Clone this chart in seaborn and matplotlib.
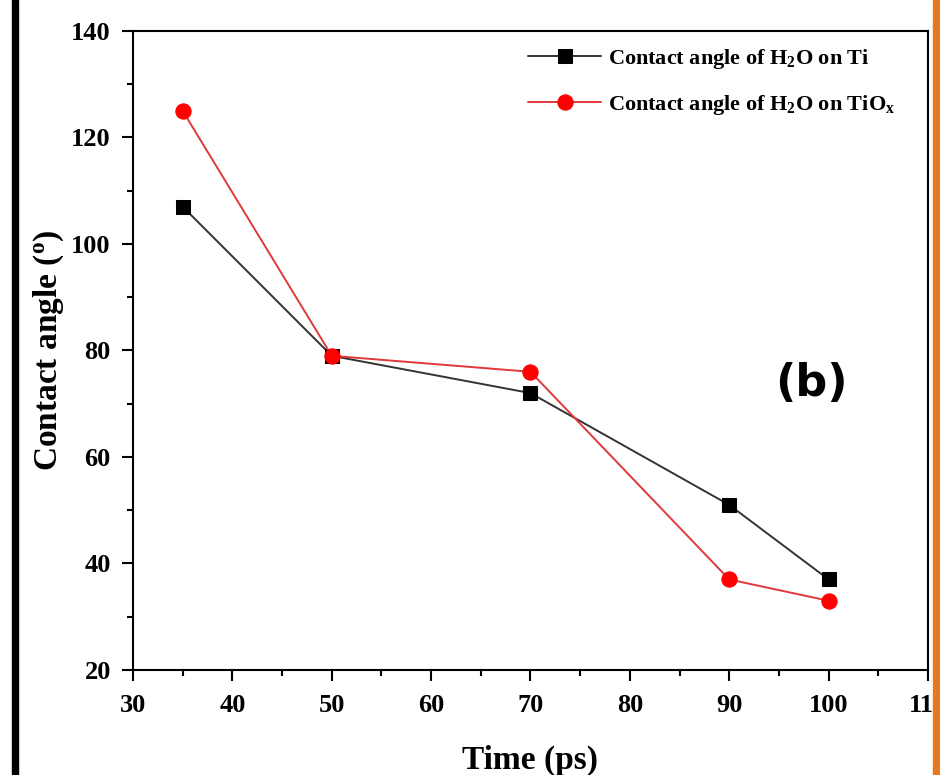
import matplotlib
matplotlib.use("Agg")
import matplotlib.pyplot as plt
import seaborn as sns
import pandas as pd
from matplotlib.patches import Rectangle

# ======================================
# Data
# ======================================

time_ps = [35, 50, 70, 90, 100]
angle_ti = [107, 79, 72, 51, 37]
angle_tiox = [125, 79, 76, 37, 33]

label_ti = r"Contact angle of H$_\mathrm{2}$O on Ti"
label_tiox = r"Contact angle of H$_\mathrm{2}$O on TiO$_\mathrm{x}$"

x_ticks = [30, 40, 50, 60, 70, 80, 90, 100, 110]
y_ticks = [20, 40, 60, 80, 100, 120, 140]

# ======================================
# Style
# ======================================

sns.set_theme(style="ticks")
plt.rcParams["font.family"] = ["Liberation Serif", "DejaVu Serif"]
plt.rcParams["font.weight"] = "bold"
plt.rcParams["text.color"] = "black"
plt.rcParams["axes.labelcolor"] = "black"
plt.rcParams["mathtext.fontset"] = "custom"
plt.rcParams["mathtext.rm"] = "Liberation Serif:bold"
plt.rcParams["mathtext.it"] = "Liberation Serif:bold"
plt.rcParams["mathtext.bf"] = "Liberation Serif:bold"

df_ti = pd.DataFrame({"time": time_ps, "angle": angle_ti})
df_tiox = pd.DataFrame({"time": time_ps, "angle": angle_tiox})

fig = plt.figure(figsize=(9.4, 7.75), dpi=100)
ax = fig.add_axes([0.1415, 0.1355, 0.8457, 0.8245])

sns.lineplot(
    data=df_ti, x="time", y="angle", ax=ax,
    color="#333333", linewidth=1.4,
    marker="s", markersize=10, markerfacecolor="black",
    markeredgecolor="black", label=label_ti
)

sns.lineplot(
    data=df_tiox, x="time", y="angle", ax=ax,
    color="#e0383b", linewidth=1.4,
    marker="o", markersize=11, markerfacecolor="#ff0000",
    markeredgecolor="#ff0000", label=label_tiox
)

ax.set_xlim(30, 110)
ax.set_ylim(20, 140)
ax.set_xticks(x_ticks)
ax.set_yticks(y_ticks)
ax.set_xticks([35, 45, 55, 65, 75, 85, 95, 105], minor=True)
ax.set_yticks([30, 50, 70, 90, 110, 130], minor=True)

ax.tick_params(axis="both", which="major", direction="out",
               length=8, width=1.5, labelsize=19, colors="black")
ax.tick_params(axis="x", which="major", pad=9)
ax.tick_params(axis="y", which="major", pad=8)
ax.tick_params(axis="both", which="minor", direction="out",
               length=4, width=1.5, colors="black")
ax.tick_params(top=False, right=False, which="both")

for spine in ax.spines.values():
    spine.set_visible(True)
    spine.set_linewidth(1.5)
    spine.set_color("black")

for lab in ax.get_xticklabels() + ax.get_yticklabels():
    lab.set_fontweight("bold")

ax.set_xlabel("Time (ps)", fontsize=24, fontweight="bold", labelpad=20)
ax.set_ylabel(r"Contact angle ($^\mathrm{o}$)", fontsize=24,
              fontweight="bold", labelpad=4)

ax.legend(
    loc="upper left", bbox_to_anchor=(0.497, 0.975),
    frameon=False, handlelength=3.3,
    labelspacing=0.97, borderpad=0, borderaxespad=0, handletextpad=0.3,
    prop={"family": "Liberation Serif", "weight": "bold", "size": 16}
)

ax.text(0.853, 0.449, "(b)", transform=ax.transAxes,
        fontsize=32, fontweight="bold", family="DejaVu Sans",
        ha="center", va="center")

# frame strips at the image edges
fig.patches.append(Rectangle((0.0128, 0), 0.0064, 1, transform=fig.transFigure,
                             color="black", zorder=10))
fig.patches.append(Rectangle((0.9925, 0), 0.0075, 1, transform=fig.transFigure,
                             color="#e87722", zorder=10))

fig.savefig("out.png", dpi=100, facecolor="white")
